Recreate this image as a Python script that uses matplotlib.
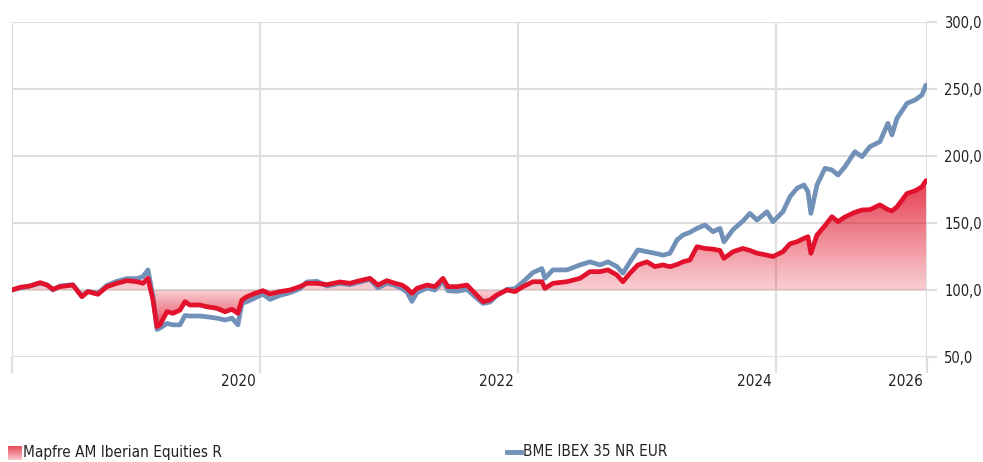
import numpy as np
import matplotlib
matplotlib.use('Agg')
import matplotlib.pyplot as plt
from matplotlib.patches import PathPatch
from matplotlib.ticker import FuncFormatter

# decimal years
years = [2019.078, 2019.140, 2019.217, 2019.295, 2019.349, 2019.395, 2019.450, 2019.550,
         2019.620, 2019.667, 2019.744, 2019.814, 2019.891, 2019.969, 2020.047, 2020.093,
         2020.132, 2020.171, 2020.202, 2020.225, 2020.279, 2020.326, 2020.380, 2020.419,
         2020.457, 2020.535, 2020.589, 2020.667, 2020.729, 2020.783, 2020.829, 2020.860,
         2020.899, 2020.961, 2021.023, 2021.078, 2021.155, 2021.233, 2021.310, 2021.364,
         2021.442, 2021.519, 2021.620, 2021.698, 2021.775, 2021.853, 2021.915, 2021.984,
         2022.047, 2022.101, 2022.140, 2022.178, 2022.217, 2022.295, 2022.357, 2022.419,
         2022.457, 2022.527, 2022.605, 2022.667, 2022.729, 2022.783, 2022.837, 2022.915,
         2022.977, 2023.039, 2023.116, 2023.186, 2023.209, 2023.271, 2023.380, 2023.481,
         2023.558, 2023.636, 2023.698, 2023.767, 2023.814, 2023.868, 2023.930, 2024.000,
         2024.062, 2024.124, 2024.178, 2024.233, 2024.279, 2024.333, 2024.388, 2024.450,
         2024.512, 2024.566, 2024.597, 2024.667, 2024.744, 2024.798, 2024.853, 2024.930,
         2024.977, 2025.054, 2025.109, 2025.163, 2025.217, 2025.248, 2025.271, 2025.318,
         2025.380, 2025.434, 2025.481, 2025.535, 2025.612, 2025.667, 2025.729, 2025.806,
         2025.868, 2025.899, 2025.938, 2026.016, 2026.078, 2026.132, 2026.163]

fund = [100, 102, 103, 105.5, 103.7, 100.5, 102.5, 103.7,
        95, 98.8, 96.8, 102.5, 105, 107, 106.2, 105,
        108.7, 92.5, 72.6, 74, 83.8, 82.6, 85, 91.3,
        88.8, 88.8, 87.5, 86.3, 83.8, 85.6, 82.6, 92.5,
        95, 97.5, 99.5, 97, 98.8, 100, 102.5, 105,
        105, 104, 106, 105, 107, 108.7, 103.7, 107,
        105, 103.7, 101.2, 97.5, 101.2, 103.7, 102.5, 108.7,
        102.5, 102.5, 103.7, 97.5, 91.3, 92.5, 96.3, 100,
        98.8, 102.5, 106.2, 106.2, 101.2, 105, 106.2, 108.7,
        113.7, 113.7, 115, 111.2, 106.2, 112.5, 118.7, 121,
        117.5, 118.7, 117.4, 119, 121, 122.4, 132.3, 131,
        130.5, 129.5, 123.6, 128.6, 131, 129.5, 127.5, 126,
        125, 128.6, 134.5, 136, 138.5, 139.8, 127.4, 141,
        148, 154.7, 151, 154.5, 158, 159.7, 160, 163.5,
        160, 159, 162, 172, 174, 177, 181.6]

index = [100, 101.5, 103, 105, 104, 100, 103, 104,
         95.5, 99, 97.5, 103.5, 106.5, 108.5, 108.5, 110,
         115, 95, 70.5, 71.6, 75, 74, 74, 81,
         80.6, 80.6, 80, 79, 77.6, 79, 74, 90,
         91.3, 94, 97, 93, 96, 98, 101, 106,
         106.5, 103, 105, 104, 106, 108, 101.5, 105,
         103.5, 101, 98.5, 91.5, 98, 101.5, 100, 107,
         99.5, 99, 100.5, 95, 90, 91, 96, 100.5,
         101, 106, 113, 116, 108.7, 115, 115, 118.7,
         121, 118.7, 121, 117.5, 112.5, 121, 129.9, 128.6,
         127.4, 126, 127.4, 137.3, 141, 143, 146, 148.5,
         143.5, 146, 136, 145, 151.5, 157.2, 152.2, 158.4,
         151, 158.4, 169.6, 175.9, 178.4, 173.4, 157.2, 178.4,
         190.8, 189.6, 185.8, 192, 203.2, 199.5, 207, 210.7,
         224.4, 215.7, 228.1, 239.3, 241.8, 245.5, 253]

grid_years = [2021, 2023, 2025]
year_labels = ['2020', '2022', '2024', '2026']
y_ticks = [50, 100, 150, 200, 250, 300]
fund_name = 'Mapfre AM Iberian Equities R'
index_name = 'BME IBEX 35 NR EUR'

RED = '#e2122d'
BLUE = '#7291b9'
GRID = '#dedede'
FONT = dict(family='DejaVu Sans', stretch='condensed', size=11, color='#222222')

x = np.array(years)
f = np.array(fund)
b = np.array(index)
x0, x1 = 2019.078, 2026.171

fig = plt.figure(figsize=(9.83, 4.62), dpi=100)
ax = fig.add_axes([12 / 983, 105 / 462, 915 / 983, 335 / 462])

# gradient fill between fund line and 100
poly = ax.fill_between(x, f, 100, color='none', lw=0)
clip = PathPatch(poly.get_paths()[0], transform=ax.transData,
                 facecolor='none', edgecolor='none')
ax.add_patch(clip)
yy = np.linspace(60, 190, 500)
alpha = np.where(yy >= 100, 0.2 + 0.62 * (yy - 100) / 82, 0.2 + 0.6 * (100 - yy) / 28)
alpha = np.clip(alpha, 0, 0.85)
img = np.zeros((len(yy), 1, 4))
img[..., 0] = 0.88
img[..., 1] = 0.07
img[..., 2] = 0.16
img[:, 0, 3] = alpha
im = ax.imshow(img, extent=[x0, x1, 60, 190], origin='lower', aspect='auto',
               interpolation='bilinear', zorder=1)
im.set_clip_path(clip)

ax.plot(x, b, color=BLUE, lw=3.4, solid_joinstyle='round', solid_capstyle='round', zorder=3)
ax.plot(x, f, color=RED, lw=3.4, solid_joinstyle='round', solid_capstyle='round', zorder=4)

ax.set_xlim(x0, x1)
ax.set_ylim(50, 300)
for s in ax.spines.values():
    s.set_visible(False)

ax.set_xticks([x0] + grid_years + [x1])
ax.set_yticks(y_ticks)
ax.grid(True, color=GRID, lw=1.5, zorder=0)
ax.set_axisbelow(True)
ax.tick_params(axis='x', length=11.5, width=1.5, color=GRID, labelbottom=False)
ax.yaxis.tick_right()
ax.tick_params(axis='y', length=7.5, width=1.5, color=GRID, pad=5,
               labelsize=10.5, labelcolor=FONT['color'])
ax.yaxis.set_major_formatter(FuncFormatter(lambda v, p: f'{v:.1f}'.replace('.', ',')))
for lab in ax.get_yticklabels():
    lab.set_fontstretch('condensed')

for xpos, lab in zip(grid_years + [x1], year_labels):
    ax.annotate(lab, xy=(xpos, 0), xycoords=('data', 'axes fraction'),
                xytext=(-4, -24), textcoords='offset pixels',
                ha='right', va='center', **FONT)

# legend
lg = fig.add_axes([8 / 983, 2 / 462, 14 / 983, 14 / 462])
grad = np.zeros((20, 1, 4))
grad[..., 0] = 0.88
grad[..., 1] = 0.07
grad[..., 2] = 0.16
grad[:, 0, 3] = np.linspace(0.25, 0.75, 20)
lg.imshow(grad, origin='lower', aspect='auto', extent=[0, 1, 0, 1])
lg.axis('off')
fig.text(23 / 983, 1 - 452 / 462, fund_name, ha='left', va='center', **FONT)
fig.add_artist(plt.Line2D([507 / 983, 521 / 983], [1 - 452 / 462] * 2,
                          color=BLUE, lw=3.5))
fig.text(523 / 983, 1 - 452 / 462, index_name, ha='left', va='center', **FONT)

fig.savefig('out.png', dpi=100)
